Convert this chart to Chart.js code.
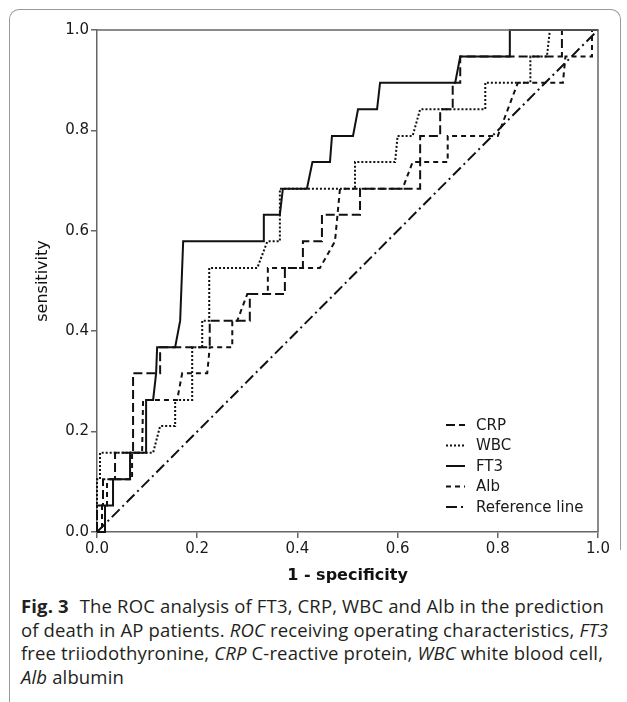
<!DOCTYPE html>
<html>
<head>
<meta charset="utf-8">
<script src="https://cdn.jsdelivr.net/npm/chart.js@4.4.1/dist/chart.umd.min.js"></script>
<style>
  html, body { margin: 0; padding: 0; background: #fff; }
  #wrap { position: relative; width: 627px; height: 702px; overflow: hidden; }
  #frameTop { position: absolute; left: 9px; top: 9px; width: 610px; height: 540px;
              border: 1.5px solid #9a9a9a; border-bottom: none; border-radius: 10px 10px 0 0; }
  #frameLeft { position: absolute; left: 9px; top: 540px; height: 170px; border-left: 1.5px solid #9a9a9a; }
  #roc { position: absolute; left: 0; top: 0; }
  #caption { position: absolute; left: 21px; top: 594px; width: 604px; white-space: nowrap;
             font-family: "Open Sans", "Noto Sans", sans-serif; font-size: 18.5px; letter-spacing: 0.15px;
             line-height: 23.7px; color: #231f20; }
  #caption b { font-weight: 700; margin-right: 6px; }
</style>
</head>
<body>
<div id="wrap">
  <div id="frameTop"></div>
  <div id="frameLeft"></div>
  <canvas id="roc" width="627" height="590"></canvas>
  <div id="caption">
    <b>Fig. 3</b> The ROC analysis of FT3, CRP, WBC and Alb in the prediction<br>
    of death in AP patients. <i>ROC</i> receiving operating characteristics, <i>FT3</i><br>
    free triiodothyronine, <i>CRP</i> C-reactive protein, <i>WBC</i> white blood cell,<br>
    <i>Alb</i> albumin
  </div>
</div>
<script>
// Curvas ROC (x = 1 - especificidade, y = sensibilidade)
const crpX = [0, 0, 0.012, 0.012, 0.036, 0.036, 0.072, 0.072, 0.126, 0.126, 0.225, 0.225, 0.305, 0.305, 0.375, 0.375, 0.411, 0.411, 0.449, 0.449, 0.525, 0.525, 0.645, 0.645, 0.685, 0.685, 0.71, 0.71, 0.725, 0.725, 0.928, 0.928, 1];
const crpY = [0, 0.053, 0.053, 0.105, 0.105, 0.158, 0.158, 0.316, 0.316, 0.368, 0.368, 0.421, 0.421, 0.474, 0.474, 0.526, 0.526, 0.579, 0.579, 0.632, 0.632, 0.684, 0.684, 0.789, 0.789, 0.842, 0.842, 0.895, 0.895, 0.947, 0.947, 1, 1];

const wbcX = [0, 0, 0.006, 0.006, 0.112, 0.126, 0.156, 0.156, 0.19, 0.19, 0.21, 0.21, 0.224, 0.224, 0.32, 0.34, 0.365, 0.365, 0.515, 0.515, 0.595, 0.6, 0.63, 0.645, 0.775, 0.775, 0.865, 0.865, 0.898, 0.904, 1];
const wbcY = [0, 0.105, 0.105, 0.158, 0.158, 0.211, 0.211, 0.263, 0.263, 0.368, 0.368, 0.421, 0.421, 0.526, 0.526, 0.579, 0.579, 0.684, 0.684, 0.737, 0.737, 0.789, 0.789, 0.842, 0.842, 0.895, 0.895, 0.947, 0.947, 1, 1];

const ft3X = [0, 0.016, 0.016, 0.032, 0.032, 0.066, 0.066, 0.098, 0.098, 0.112, 0.118, 0.12, 0.156, 0.166, 0.172, 0.333, 0.333, 0.365, 0.371, 0.419, 0.43, 0.465, 0.469, 0.511, 0.521, 0.559, 0.565, 0.715, 0.725, 0.824, 0.824, 1];
const ft3Y = [0, 0, 0.053, 0.053, 0.105, 0.105, 0.158, 0.158, 0.263, 0.263, 0.316, 0.368, 0.368, 0.421, 0.579, 0.579, 0.632, 0.632, 0.684, 0.684, 0.737, 0.737, 0.789, 0.789, 0.842, 0.842, 0.895, 0.895, 0.947, 0.947, 1, 1];

const albX = [0, 0.01, 0.01, 0.02, 0.02, 0.07, 0.07, 0.09, 0.092, 0.16, 0.17, 0.22, 0.225, 0.27, 0.27, 0.28, 0.3, 0.341, 0.341, 0.445, 0.475, 0.485, 0.61, 0.63, 0.7, 0.7, 0.8, 0.82, 0.84, 0.93, 0.935, 0.988, 0.988, 1];
const albY = [0, 0, 0.053, 0.053, 0.105, 0.105, 0.158, 0.158, 0.263, 0.263, 0.316, 0.316, 0.368, 0.368, 0.421, 0.421, 0.474, 0.474, 0.526, 0.526, 0.579, 0.684, 0.684, 0.737, 0.737, 0.789, 0.789, 0.842, 0.895, 0.895, 0.947, 0.947, 1, 1];

const refX = [0, 1];
const refY = [0, 1];

const tickValues = [0, 0.2, 0.4, 0.6, 0.8, 1];
const seriesNames = ['CRP', 'WBC', 'FT3', 'Alb', 'Reference line'];

// Estilos de linha (preto, tracejados diferentes)
const dashes = {
    'CRP': [9, 4],
    'WBC': [2, 2],
    'FT3': [],
    'Alb': [5, 4],
    'Reference line': [11, 4, 2, 4]
};

function toPoints(xs, ys) {
    return xs.map((x, i) => ({ x: x, y: ys[i] }));
}

const seriesData = {
    'CRP': toPoints(crpX, crpY),
    'WBC': toPoints(wbcX, wbcY),
    'FT3': toPoints(ft3X, ft3Y),
    'Alb': toPoints(albX, albY),
    'Reference line': toPoints(refX, refY)
};

const fontFamily = '"DejaVu Sans", "Liberation Sans", sans-serif';

// Moldura superior/direita da área do gráfico e legenda interna
const frameAndLegend = {
    id: 'frameAndLegend',
    afterDraw(chart) {
        const { ctx, chartArea } = chart;
        ctx.save();
        ctx.strokeStyle = '#666';
        ctx.lineWidth = 1.5;
        ctx.beginPath();
        ctx.moveTo(chartArea.left, chartArea.top);
        ctx.lineTo(chartArea.right, chartArea.top);
        ctx.lineTo(chartArea.right, chartArea.bottom);
        ctx.stroke();

        const lx = chartArea.right - 152;
        let ly = chartArea.bottom - 107;
        ctx.font = '15px ' + fontFamily;
        ctx.textBaseline = 'middle';
        ctx.fillStyle = '#1a1a1a';
        seriesNames.forEach(name => {
            ctx.strokeStyle = '#111';
            ctx.lineWidth = 2;
            ctx.setLineDash(dashes[name]);
            ctx.beginPath();
            ctx.moveTo(lx, ly);
            ctx.lineTo(lx + 19, ly);
            ctx.stroke();
            ctx.setLineDash([]);
            ctx.fillText(name, lx + 30, ly + 1);
            ly += 20.5;
        });
        ctx.restore();
    }
};

const axisCommon = {
    type: 'linear',
    min: 0,
    max: 1,
    afterBuildTicks: (scale) => { scale.ticks = tickValues.map(v => ({ value: v })); },
    grid: { display: true, drawOnChartArea: false, drawTicks: true, tickLength: 6, color: '#666', lineWidth: 1.5 },
    border: { display: true, color: '#666', width: 1.5 },
    ticks: {
        color: '#1a1a1a',
        padding: 2,
        font: { family: fontFamily, size: 15 },
        callback: (v) => Number(v).toFixed(1)
    }
};

new Chart(document.getElementById('roc'), {
    type: 'line',
    data: {
        datasets: seriesNames.map(name => ({
            label: name,
            data: seriesData[name],
            borderColor: '#111',
            borderWidth: 2,
            borderDash: dashes[name],
            pointRadius: 0,
            tension: 0,
            fill: false,
            clip: 4
        }))
    },
    options: {
        responsive: false,
        animation: false,
        devicePixelRatio: 1,
        layout: { padding: { left: 0, top: 30, right: 29, bottom: 0 } },
        plugins: { legend: { display: false }, tooltip: { enabled: false } },
        scales: {
            x: Object.assign({}, axisCommon, {
                position: 'bottom',
                afterFit: (scale) => { scale.height = 58; },
                title: {
                    display: true,
                    text: '1 - specificity',
                    color: '#111',
                    font: { family: fontFamily, size: 16, weight: 'bold' },
                    padding: { top: 0, bottom: 5 }
                }
            }),
            y: Object.assign({}, axisCommon, {
                position: 'left',
                afterFit: (scale) => { scale.width = 97; },
                title: {
                    display: true,
                    text: 'sensitivity',
                    color: '#111',
                    font: { family: fontFamily, size: 16 },
                    padding: { top: 33, bottom: 0 }
                }
            })
        }
    },
    plugins: [frameAndLegend]
});
</script>
</body>
</html>
